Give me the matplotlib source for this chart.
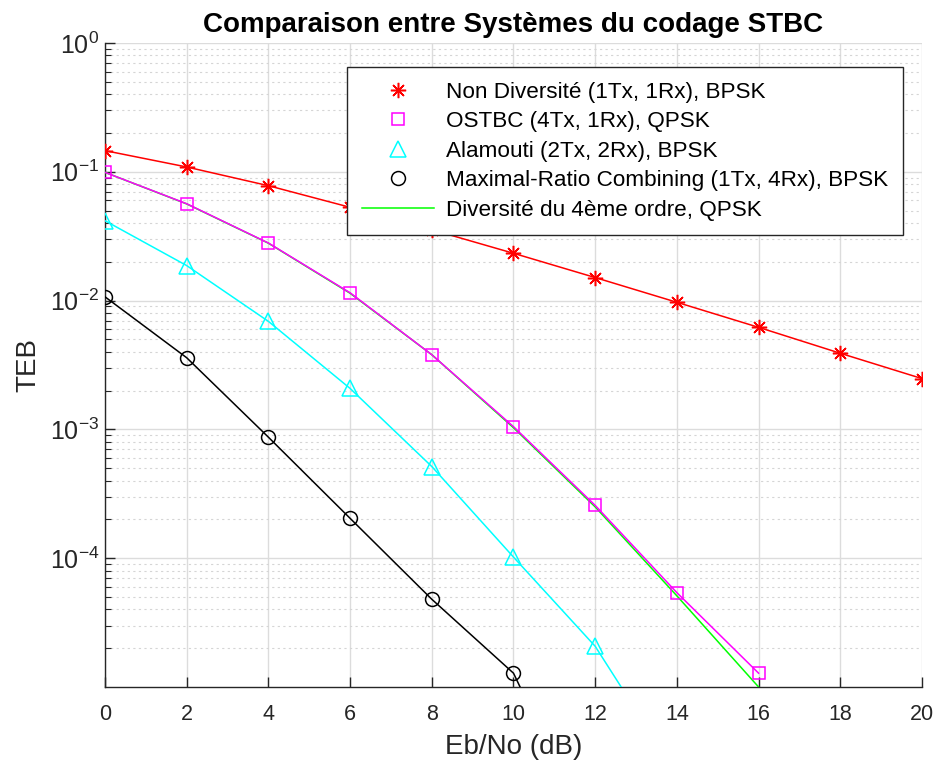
import numpy as np
import matplotlib
matplotlib.use("Agg")
import matplotlib.pyplot as plt
from matplotlib.ticker import FixedLocator, NullFormatter

plt.rcParams['font.family'] = ['Liberation Sans', 'DejaVu Sans']
plt.rcParams['mathtext.fontset'] = 'custom'
plt.rcParams['mathtext.rm'] = 'Liberation Sans'

# ---- data ----
ebno = [0, 2, 4, 6, 8, 10, 12, 14, 16, 18, 20]
ber_siso = [0.146, 0.109, 0.078, 0.053, 0.0355, 0.0233, 0.0151, 0.0097, 0.0062, 0.0039, 0.00248]
ebno_ostbc = [0, 2, 4, 6, 8, 10, 12, 14, 16]
ber_ostbc = [0.099, 0.0565, 0.028, 0.0115, 0.0038, 0.00105, 2.57e-4, 5.4e-5, 1.28e-5]
ebno_alam = [0, 2, 4, 6, 8, 10, 12, 14]
ber_alam = [0.0417, 0.0187, 0.0069, 0.00208, 5.15e-4, 1.02e-4, 2.07e-5, 2.1e-6]
ebno_mrc = [0, 2, 4, 6, 8, 10, 12]
ber_mrc = [0.0107, 0.0036, 8.7e-4, 2.04e-4, 4.8e-5, 1.28e-5, 6e-7]
ebno_theo = [0, 2, 4, 6, 8, 10, 12, 14, 16, 18, 20]
ber_theo = [0.099, 0.0563, 0.0279, 0.0114, 0.0038, 1.03e-3, 2.5e-4, 5.1e-5, 1.0e-5, 1.8e-6, 3e-7]

labels = ['Non Diversité (1Tx, 1Rx), BPSK',
          'OSTBC (4Tx, 1Rx), QPSK',
          'Alamouti (2Tx, 2Rx), BPSK',
          'Maximal-Ratio Combining (1Tx, 4Rx), BPSK',
          'Diversité du 4ème ordre, QPSK']
title = 'Comparaison entre Systèmes du codage STBC'
xlabel = 'Eb/No (dB)'
ylabel = 'TEB'
xticks = [0, 2, 4, 6, 8, 10, 12, 14, 16, 18, 20]
yticks = [1e-4, 1e-3, 1e-2, 1e-1, 1e0]
ytick_labels = [r'$10^{-4}$', r'$10^{-3}$', r'$10^{-2}$', r'$10^{-1}$', r'$10^{0}$']

W, H = 937, 769
fig = plt.figure(figsize=(W / 100, H / 100), dpi=100)
L, R, T, B = 105, 922, 43, 687
ax = fig.add_axes([L / W, 1 - B / H, (R - L) / W, (B - T) / H])

asterisk = (8, 2, 0)
lw = 1.1
ax.semilogy(ebno, ber_siso, '-', color='#ff0000', lw=lw, zorder=3)
ax.semilogy(ebno, ber_siso, linestyle='none', marker=asterisk, ms=11, mew=1.1,
            color='#ff0000', label=labels[0], zorder=4)
ax.semilogy(ebno_ostbc, ber_ostbc, '-', color='#ff00ff', lw=lw, zorder=3)
ax.semilogy(ebno_ostbc, ber_ostbc, linestyle='none', marker='s', ms=9, mew=1.1,
            mfc='none', color='#ff00ff', label=labels[1], zorder=4)
ax.semilogy(ebno_alam, ber_alam, '-', color='#00ffff', lw=lw, zorder=3)
ax.semilogy(ebno_alam, ber_alam, linestyle='none', marker='^', ms=11, mew=1.1,
            mfc='none', color='#00ffff', label=labels[2], zorder=4)
ax.semilogy(ebno_mrc, ber_mrc, '-', color='#000000', lw=lw, zorder=3)
ax.semilogy(ebno_mrc, ber_mrc, linestyle='none', marker='o', ms=10, mew=1.1,
            mfc='none', color='#000000', label=labels[3], zorder=4)
ax.semilogy(ebno_theo, ber_theo, '-', color='#00ff00', lw=lw, label=labels[4], zorder=2.9)

ax.set_xlim(0, 20)
ax.set_ylim(1e-5, 1)
ax.set_xticks(xticks)
ax.set_yticks(yticks)
ax.set_yticklabels(ytick_labels)
ax.yaxis.set_minor_locator(FixedLocator(
    [m * 10.0 ** e for e in range(-5, 0) for m in range(2, 10)]))
ax.yaxis.set_minor_formatter(NullFormatter())

axcol = '#262626'
for s in ['top', 'right']:
    ax.spines[s].set_visible(False)
for s in ['left', 'bottom']:
    ax.spines[s].set_color(axcol)
    ax.spines[s].set_linewidth(1.0)
ax.tick_params(which='major', direction='in', length=7, width=1.0, colors=axcol)
ax.tick_params(which='minor', direction='in', length=4, width=0.8, colors=axcol)
ax.tick_params(axis='x', which='major', labelsize=15.5, pad=12)
ax.tick_params(axis='y', which='major', labelsize=18, pad=4)

ax.grid(True, which='major', color='#dcdcdc', lw=1.0)
ax.grid(True, which='minor', axis='y', color='#d5d5d5', lw=0.8, linestyle=(0, (2, 3)))
ax.set_axisbelow(True)

ax.set_title(title, fontsize=20, fontweight='bold', color='black', pad=8)
ax.set_xlabel(xlabel, fontsize=20, color=axcol, labelpad=7)
ax.set_ylabel(ylabel, fontsize=20, color=axcol, labelpad=6)

h, l = ax.get_legend_handles_labels()
leg = ax.legend(h, l, loc='upper left', bbox_to_anchor=((347 - L) / (R - L), (B - 67) / (B - T)),
                fontsize=16.2, frameon=True, fancybox=False, framealpha=1,
                edgecolor=axcol, handlelength=3.2, handletextpad=0.55,
                labelspacing=0.38, borderpad=0.65, borderaxespad=0)
leg.get_frame().set_linewidth(1.0)
for t in leg.get_texts():
    t.set_color('#000000')

fig.savefig('out.png', dpi=100)
